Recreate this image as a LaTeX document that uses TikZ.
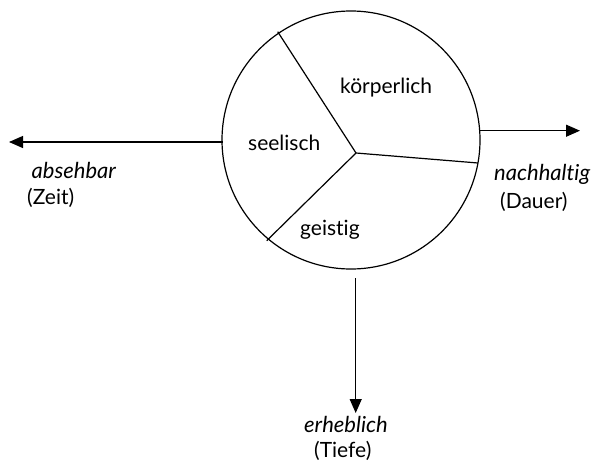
\documentclass[tikz,border=0pt]{standalone}
\usepackage{fontspec}
\setmainfont{Lato}[Ligatures={NoCommon}]
\usetikzlibrary{arrows.meta}
\begin{document}
\begin{tikzpicture}[x=1pt,y=-1pt,
  lbl/.style={anchor=base west,inner sep=0pt,font=\fontsize{21}{25}\selectfont},
  ilbl/.style={lbl,font=\fontsize{22}{26}\selectfont\itshape},
  ln/.style={line width=1.2pt},
  arr/.style={ln,-{Triangle[length=14pt,width=12pt]}}]
\useasboundingbox (0,0) rectangle (602,466);
\node[draw,circle,ln,minimum size=258pt,inner sep=0pt] (c) at (351,140) {};
\coordinate (hub) at (356,153);
\coordinate (s1) at (277.7,31.7);
\coordinate (s2) at (478,163);
\coordinate (s3) at (266.7,240.7);
\draw[ln] (hub) -- (s1);
\draw[ln] (hub) -- (s2);
\draw[ln] (hub) -- (s3);
\coordinate (lstart) at (222.5,142);
\coordinate (ltip) at (9,142);
\coordinate (rstart) at (479,130.7);
\coordinate (rtip) at (580,130.7);
\coordinate (bstart) at (355.7,278);
\coordinate (btip) at (355.7,413);
\draw[arr] (lstart) -- (ltip);
\draw[arr] (rstart) -- (rtip);
\draw[arr] (bstart) -- (btip);
\node[lbl] (k) at (340,93) {körperlich};
\node[lbl] (s) at (248,150) {seelisch};
\node[lbl] (g) at (300,235) {geistig};
\node[ilbl] (a1) at (31.5,178) {absehbar};
\node[lbl] (a2) at (27,204) {(Zeit)};
\node[ilbl] (n1) at (494,180) {nachhaltig};
\node[lbl] (n2) at (500,208) {(Dauer)};
\node[ilbl] (e1) at (304,432) {erheblich};
\node[lbl] (e2) at (314,457) {(Tiefe)};
\end{tikzpicture}
\end{document}
